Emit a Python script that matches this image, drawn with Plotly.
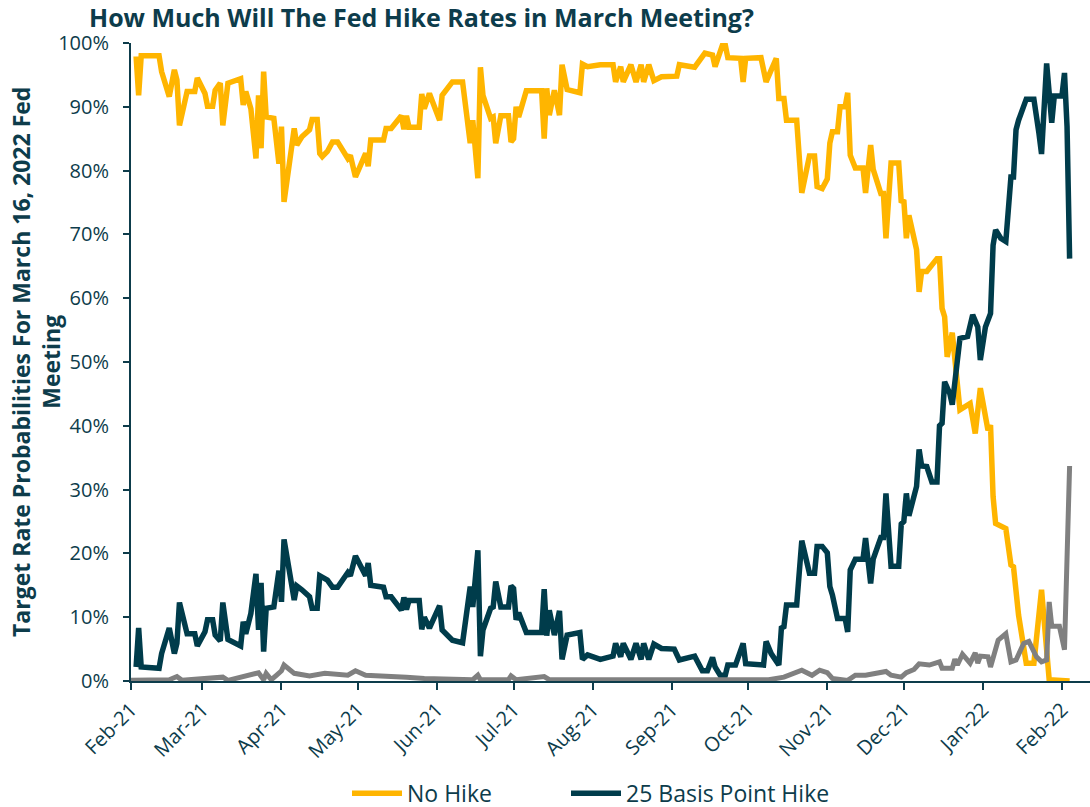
import plotly.graph_objects as go

# ---------------- data ----------------
no_hike_dates = [
    "2021-02-03", "2021-02-04", "2021-02-05", "2021-02-12", "2021-02-13", "2021-02-16", "2021-02-18",
    "2021-02-19", "2021-02-20", "2021-02-23", "2021-02-26", "2021-02-27", "2021-03-02", "2021-03-03",
    "2021-03-05", "2021-03-06", "2021-03-08", "2021-03-09", "2021-03-11", "2021-03-16", "2021-03-17",
    "2021-03-18", "2021-03-20", "2021-03-22", "2021-03-23", "2021-03-24", "2021-03-25", "2021-03-26",
    "2021-03-29", "2021-03-31", "2021-04-01", "2021-04-02", "2021-04-06", "2021-04-07", "2021-04-09",
    "2021-04-12", "2021-04-13", "2021-04-15", "2021-04-16", "2021-04-17", "2021-04-19", "2021-04-21",
    "2021-04-23", "2021-04-27", "2021-04-28", "2021-04-30", "2021-05-04", "2021-05-05", "2021-05-06",
    "2021-05-11", "2021-05-12", "2021-05-14", "2021-05-18", "2021-05-19", "2021-05-20", "2021-05-21",
    "2021-05-25", "2021-05-26", "2021-05-27", "2021-05-29", "2021-06-02", "2021-06-03", "2021-06-07",
    "2021-06-11", "2021-06-14", "2021-06-15", "2021-06-17", "2021-06-18", "2021-06-19", "2021-06-22",
    "2021-06-23", "2021-06-24", "2021-06-26", "2021-06-29", "2021-06-30", "2021-07-01", "2021-07-02",
    "2021-07-03", "2021-07-06", "2021-07-10", "2021-07-12", "2021-07-13", "2021-07-14", "2021-07-15",
    "2021-07-17", "2021-07-19", "2021-07-20", "2021-07-22", "2021-07-27", "2021-07-28", "2021-07-30",
    "2021-08-04", "2021-08-09", "2021-08-10", "2021-08-12", "2021-08-13", "2021-08-16", "2021-08-18",
    "2021-08-20", "2021-08-21", "2021-08-23", "2021-08-25", "2021-08-28", "2021-09-03", "2021-09-04",
    "2021-09-10", "2021-09-14", "2021-09-17", "2021-09-18", "2021-09-21", "2021-09-22", "2021-09-23",
    "2021-09-28", "2021-09-29", "2021-09-30", "2021-10-06", "2021-10-08", "2021-10-12", "2021-10-13",
    "2021-10-15", "2021-10-16", "2021-10-20", "2021-10-22", "2021-10-25", "2021-10-27", "2021-10-28",
    "2021-10-30", "2021-11-01", "2021-11-02", "2021-11-03", "2021-11-05", "2021-11-06", "2021-11-08",
    "2021-11-09", "2021-11-10", "2021-11-12", "2021-11-15", "2021-11-16", "2021-11-18", "2021-11-19",
    "2021-11-22", "2021-11-23", "2021-11-24", "2021-11-26", "2021-11-29", "2021-11-30", "2021-12-01",
    "2021-12-02", "2021-12-03", "2021-12-06", "2021-12-07", "2021-12-08", "2021-12-10", "2021-12-14",
    "2021-12-15", "2021-12-16", "2021-12-17", "2021-12-18", "2021-12-20", "2021-12-23", "2021-12-27",
    "2021-12-29", "2021-12-31", "2022-01-03", "2022-01-04", "2022-01-05", "2022-01-06", "2022-01-10",
    "2022-01-12", "2022-01-13", "2022-01-15", "2022-01-18", "2022-01-21", "2022-01-24", "2022-01-26",
    "2022-01-27", "2022-02-04",
]
no_hike = [
    97.9, 91.8, 98.0, 98.0, 95.5, 91.6, 95.8,
    94.2, 87.1, 92.4, 92.4, 94.5, 92.1, 90.1,
    90.1, 92.6, 93.7, 87.1, 93.7, 94.4, 90.3,
    92.4, 89.7, 81.9, 91.8, 83.5, 95.5, 88.4,
    88.2, 81.1, 86.9, 75.1, 86.6, 84.0, 85.3,
    86.4, 88.0, 88.0, 82.7, 82.2, 83.0, 84.5,
    84.5, 81.9, 82.4, 79.0, 82.7, 80.7, 84.8,
    84.8, 86.6, 86.6, 88.6, 86.5, 88.6, 86.8,
    86.8, 92.0, 89.7, 92.1, 87.9, 91.8, 93.9,
    93.9, 84.3, 87.9, 78.8, 96.2, 91.8, 88.2,
    88.4, 84.3, 88.6, 88.6, 84.5, 85.0, 90.0,
    88.4, 92.5, 92.6, 92.5, 85.0, 92.9, 88.7,
    92.6, 88.7, 96.6, 92.7, 92.2, 96.7, 96.3,
    96.6, 96.6, 93.9, 96.3, 93.9, 96.6, 93.9,
    96.6, 93.9, 96.6, 94.1, 94.7, 94.8, 96.6,
    96.2, 98.4, 98.1, 96.3, 99.8, 99.7, 97.7,
    97.6, 93.9, 97.6, 97.7, 93.9, 97.6, 91.3,
    91.3, 87.9, 87.9, 76.5, 82.3, 82.3, 77.5,
    77.2, 78.7, 84.3, 86.1, 86.1, 90.0, 90.0,
    92.2, 82.4, 80.4, 80.4, 76.5, 84.0, 80.2,
    76.4, 76.4, 69.4, 81.2, 81.2, 75.0, 75.4,
    69.4, 73.0, 67.6, 61.0, 64.2, 64.2, 66.2,
    66.2, 58.4, 57.1, 50.8, 54.6, 42.5, 43.5,
    38.8, 45.9, 39.3, 40.1, 28.9, 24.7, 23.9,
    18.2, 17.9, 10.3, 2.8, 2.8, 14.3, 3.3,
    0.2, 0.0,
]

hike25_dates = [
    "2021-02-03", "2021-02-04", "2021-02-05", "2021-02-12", "2021-02-13", "2021-02-16", "2021-02-18",
    "2021-02-19", "2021-02-20", "2021-02-23", "2021-02-26", "2021-02-27", "2021-03-02", "2021-03-03",
    "2021-03-05", "2021-03-06", "2021-03-08", "2021-03-09", "2021-03-11", "2021-03-16", "2021-03-17",
    "2021-03-18", "2021-03-20", "2021-03-22", "2021-03-23", "2021-03-24", "2021-03-25", "2021-03-26",
    "2021-03-29", "2021-03-31", "2021-04-01", "2021-04-02", "2021-04-06", "2021-04-07", "2021-04-09",
    "2021-04-12", "2021-04-13", "2021-04-15", "2021-04-16", "2021-04-19", "2021-04-21", "2021-04-23",
    "2021-04-27", "2021-04-28", "2021-04-30", "2021-05-04", "2021-05-05", "2021-05-06", "2021-05-11",
    "2021-05-12", "2021-05-14", "2021-05-18", "2021-05-19", "2021-05-20", "2021-05-21", "2021-05-25",
    "2021-05-26", "2021-05-27", "2021-05-29", "2021-06-02", "2021-06-03", "2021-06-07", "2021-06-11",
    "2021-06-14", "2021-06-15", "2021-06-17", "2021-06-18", "2021-06-19", "2021-06-22", "2021-06-23",
    "2021-06-24", "2021-06-26", "2021-06-29", "2021-06-30", "2021-07-01", "2021-07-02", "2021-07-03",
    "2021-07-06", "2021-07-12", "2021-07-13", "2021-07-14", "2021-07-15", "2021-07-17", "2021-07-19",
    "2021-07-20", "2021-07-22", "2021-07-27", "2021-07-28", "2021-07-30", "2021-08-04", "2021-08-09",
    "2021-08-10", "2021-08-12", "2021-08-13", "2021-08-16", "2021-08-18", "2021-08-20", "2021-08-21",
    "2021-08-23", "2021-08-25", "2021-08-28", "2021-09-02", "2021-09-04", "2021-09-10", "2021-09-13",
    "2021-09-15", "2021-09-17", "2021-09-18", "2021-09-20", "2021-09-22", "2021-09-23", "2021-09-26",
    "2021-09-29", "2021-09-30", "2021-10-07", "2021-10-08", "2021-10-10", "2021-10-13", "2021-10-14",
    "2021-10-15", "2021-10-16", "2021-10-20", "2021-10-22", "2021-10-25", "2021-10-27", "2021-10-28",
    "2021-10-30", "2021-11-01", "2021-11-02", "2021-11-03", "2021-11-05", "2021-11-08", "2021-11-09",
    "2021-11-10", "2021-11-12", "2021-11-15", "2021-11-16", "2021-11-18", "2021-11-19", "2021-11-22",
    "2021-11-23", "2021-11-24", "2021-11-26", "2021-11-29", "2021-11-30", "2021-12-01", "2021-12-02",
    "2021-12-03", "2021-12-06", "2021-12-07", "2021-12-08", "2021-12-10", "2021-12-12", "2021-12-14",
    "2021-12-15", "2021-12-16", "2021-12-17", "2021-12-19", "2021-12-20", "2021-12-23", "2021-12-26",
    "2021-12-28", "2021-12-30", "2021-12-31", "2022-01-02", "2022-01-03", "2022-01-04", "2022-01-05",
    "2022-01-06", "2022-01-08", "2022-01-10", "2022-01-12", "2022-01-13", "2022-01-14", "2022-01-15",
    "2022-01-18", "2022-01-21", "2022-01-23", "2022-01-24", "2022-01-26", "2022-01-28", "2022-01-29",
    "2022-02-01", "2022-02-02", "2022-02-03", "2022-02-04",
]
hike25 = [
    2.2, 8.3, 2.2, 2.0, 4.3, 8.3, 4.3,
    5.9, 12.3, 7.4, 7.4, 5.5, 7.7, 9.6,
    9.6, 7.2, 6.3, 12.3, 6.5, 5.5, 9.3,
    7.4, 10.6, 16.8, 8.0, 15.4, 4.6, 11.4,
    11.6, 17.3, 12.4, 22.2, 12.7, 14.9, 14.3,
    13.2, 11.4, 11.4, 16.5, 15.8, 14.7, 14.7,
    17.0, 16.5, 19.6, 16.5, 18.5, 15.0, 14.7,
    13.2, 13.2, 11.1, 13.1, 11.2, 12.6, 12.6,
    8.1, 10.0, 8.3, 11.8, 8.0, 6.4, 6.0,
    14.8, 11.6, 20.5, 3.9, 8.0, 11.4, 11.6,
    15.6, 11.6, 11.6, 14.9, 14.5, 9.6, 10.7,
    7.6, 7.6, 14.4, 7.1, 11.1, 7.2, 11.0,
    3.4, 7.2, 7.6, 3.4, 4.1, 3.4, 3.9,
    5.9, 3.8, 5.9, 3.4, 5.9, 3.4, 5.9,
    3.4, 5.8, 5.1, 5.0, 3.3, 3.9, 1.6,
    1.6, 3.7, 2.2, 0.9, 0.9, 2.5, 2.5,
    5.9, 2.7, 2.5, 6.2, 4.3, 2.5, 8.3,
    8.5, 11.9, 11.9, 22.0, 16.9, 16.9, 21.1,
    21.1, 20.1, 14.8, 13.5, 9.8, 9.8, 7.7,
    17.4, 19.1, 19.1, 22.4, 15.3, 19.1, 22.5,
    22.5, 29.4, 18.0, 18.0, 24.6, 25.0, 29.4,
    25.9, 30.5, 36.3, 33.7, 33.6, 31.2, 31.2,
    40.0, 40.4, 46.9, 45.1, 43.3, 53.7, 54.0,
    57.4, 55.5, 50.3, 55.5, 56.8, 57.6, 68.3,
    70.7, 69.4, 68.9, 79.0, 79.0, 86.4, 87.9,
    91.2, 91.2, 85.8, 82.6, 96.8, 87.5, 91.7,
    91.7, 95.3, 86.9, 66.2,
]

hike50_dates = [
    "2021-02-01", "2021-02-16", "2021-02-19", "2021-02-21", "2021-03-09", "2021-03-11", "2021-03-23",
    "2021-03-25", "2021-03-26", "2021-03-28", "2021-03-30", "2021-04-01", "2021-04-02", "2021-04-06",
    "2021-04-12", "2021-04-18", "2021-04-27", "2021-04-29", "2021-04-30", "2021-05-04", "2021-05-12",
    "2021-05-20", "2021-05-27", "2021-06-06", "2021-06-15", "2021-06-17", "2021-06-18", "2021-06-29",
    "2021-06-30", "2021-07-02", "2021-07-13", "2021-07-15", "2021-10-09", "2021-10-15", "2021-10-22",
    "2021-10-26", "2021-10-29", "2021-11-01", "2021-11-03", "2021-11-09", "2021-11-12", "2021-11-16",
    "2021-11-24", "2021-11-26", "2021-11-30", "2021-12-02", "2021-12-05", "2021-12-07", "2021-12-11",
    "2021-12-15", "2021-12-16", "2021-12-20", "2021-12-21", "2021-12-22", "2021-12-24", "2021-12-27",
    "2021-12-29", "2021-12-30", "2021-12-31", "2022-01-03", "2022-01-04", "2022-01-07", "2022-01-10",
    "2022-01-12", "2022-01-14", "2022-01-17", "2022-01-19", "2022-01-22", "2022-01-24", "2022-01-26",
    "2022-01-27", "2022-01-28", "2022-01-31", "2022-02-02", "2022-02-04",
]
hike50 = [
    0.1, 0.2, 0.7, 0.1, 0.6, 0.1, 1.3,
    0.2, 1.2, 0.2, 0.9, 1.6, 2.5, 1.2,
    0.8, 1.2, 0.9, 1.5, 1.6, 0.9, 0.8,
    0.6, 0.4, 0.3, 0.2, 0.9, 0.2, 0.2,
    0.8, 0.2, 0.7, 0.2, 0.2, 0.6, 1.7,
    0.9, 1.7, 1.3, 0.4, 0.1, 0.9, 0.9,
    1.5, 0.9, 0.6, 1.3, 1.8, 2.7, 2.5,
    3.0, 2.0, 2.0, 3.4, 2.5, 4.2, 2.8,
    4.4, 2.8, 3.9, 3.8, 2.2, 6.4, 7.4,
    3.0, 3.3, 5.9, 6.2, 3.8, 3.0, 3.3,
    12.4, 8.6, 8.6, 4.9, 33.7,
]

series_names = ["No Hike", "25 Basis Point Hike", "50 Basis Point Hike"]
title_text = "How Much Will The Fed Hike Rates in March Meeting?"
y_title = "Target Rate Probabilities For March 16, 2022 Fed<br>Meeting"
y_ticks = [0, 10, 20, 30, 40, 50, 60, 70, 80, 90, 100]
y_tick_labels = ["0%", "10%", "20%", "30%", "40%", "50%", "60%", "70%", "80%", "90%", "100%"]

# ---------------- styling ----------------
TEXT = "#0D3C4B"
ORANGE = "#FFB500"
DARK = "#003C4B"
GRAY = "#808080"
FONT = "Open Sans, sans-serif"
PLOT_L, PLOT_W, PLOT_T, PLOT_H = 131, 959, 43, 638

fig = go.Figure()
fig.add_trace(go.Scatter(x=no_hike_dates, y=no_hike, mode="lines", name=series_names[0],
                         line=dict(color=ORANGE, width=5.5), legend="legend"))
fig.add_trace(go.Scatter(x=hike25_dates, y=hike25, mode="lines", name=series_names[1],
                         line=dict(color=DARK, width=5.5), legend="legend2"))
fig.add_trace(go.Scatter(x=hike50_dates, y=hike50, mode="lines", name=series_names[2],
                         line=dict(color=GRAY, width=5), showlegend=False))

legend_common = dict(orientation="h", xanchor="left", y=-0.176, yanchor="middle",
                     font=dict(family=FONT, size=23, color=TEXT), bgcolor="rgba(0,0,0,0)",
                     itemwidth=50)

fig.update_layout(
    width=1090, height=807,
    paper_bgcolor="white", plot_bgcolor="white",
    margin=dict(l=PLOT_L, r=0, t=PLOT_T, b=126, autoexpand=False),
    font=dict(family=FONT, color=TEXT, size=20),
    title=dict(text="<b>" + title_text + "</b>", x=89 / 1090, xanchor="left",
               y=1 - 18 / 807, yanchor="middle",
               font=dict(family=FONT, size=25, color=TEXT)),
    legend=dict(x=(347 - PLOT_L) / PLOT_W, **legend_common),
    legend2=dict(x=(566 - PLOT_L) / PLOT_W, **legend_common),
    showlegend=True,
    annotations=[dict(
        text="<b>" + y_title + "</b>", textangle=-90,
        xref="paper", yref="paper", x=(36 - PLOT_L) / PLOT_W, y=0.5,
        xanchor="center", yanchor="middle", showarrow=False,
        font=dict(family=FONT, size=23, color=TEXT),
    )],
)
fig.update_xaxes(
    type="date", range=["2021-02-01", "2022-02-12"],
    dtick="M1", tick0="2021-02-01", tickformat="%b-%y", tickangle=-45,
    showgrid=False, zeroline=False,
    showline=True, linecolor=TEXT, linewidth=2,
    ticks="outside", ticklen=7, tickwidth=2, tickcolor=TEXT,
    tickfont=dict(family=FONT, size=20, color=TEXT),
)
fig.update_yaxes(
    range=[0, 100], tickmode="array", tickvals=y_ticks, ticktext=y_tick_labels,
    showgrid=False, zeroline=False,
    showline=True, linecolor=TEXT, linewidth=2,
    ticks="outside", ticklen=6, tickwidth=2, tickcolor=TEXT, ticklabelstandoff=10,
    tickfont=dict(family=FONT, size=20, color=TEXT),
)

fig.write_html("out.html", config={"displayModeBar": False},
               post_script="document.body.style.margin='0';document.body.style.overflow='hidden';")
